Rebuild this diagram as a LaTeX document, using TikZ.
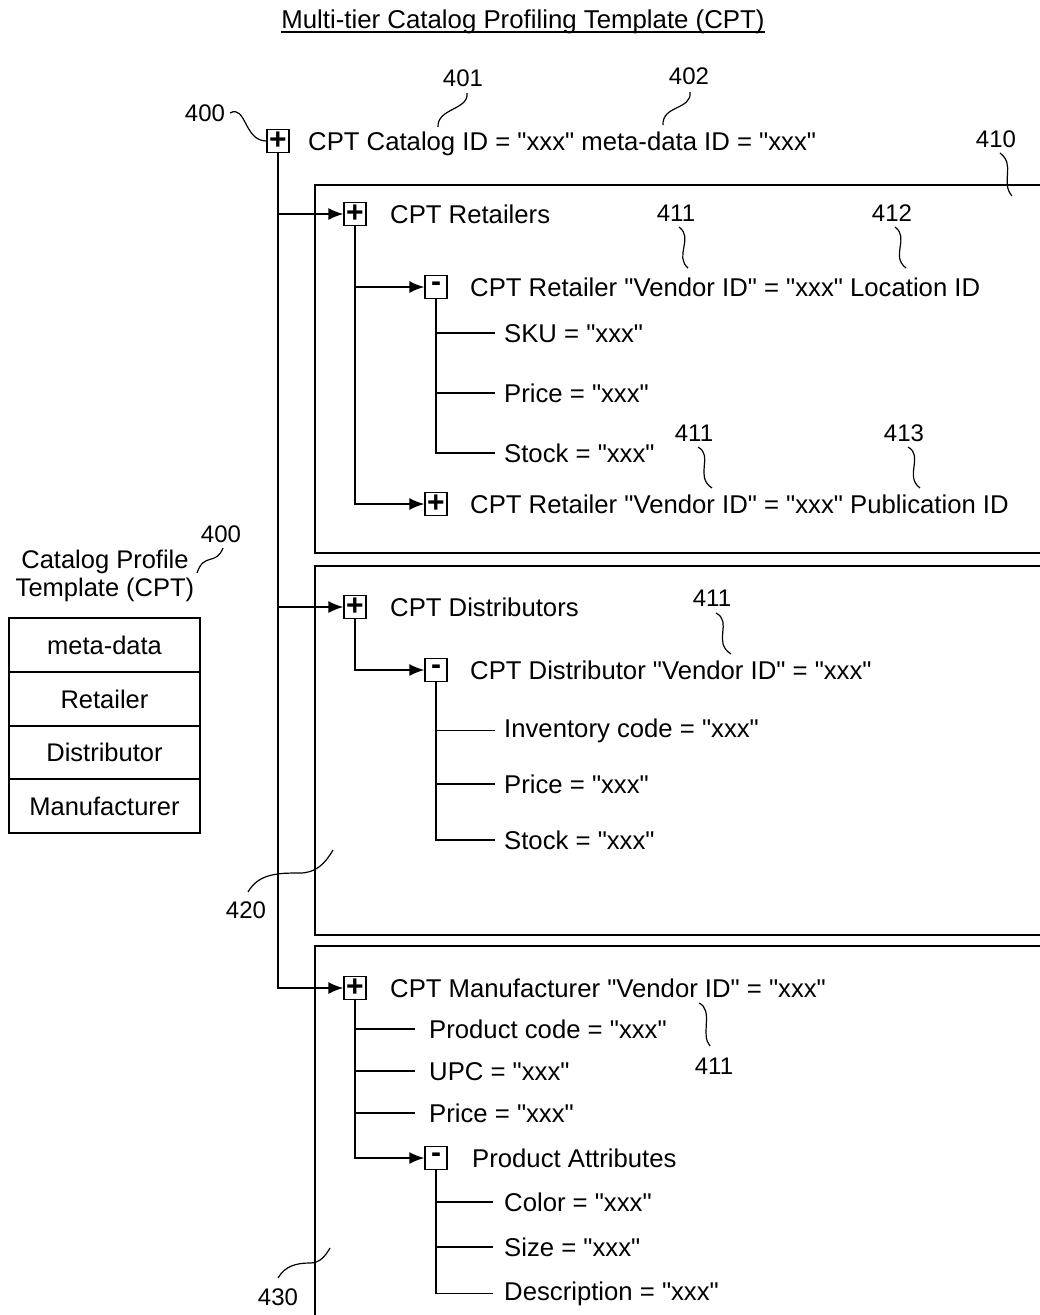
\documentclass[tikz,border=0pt]{standalone}
\usepackage{fontspec}
\setmainfont{Liberation Sans}[Ligatures=TeXOff]
\usetikzlibrary{arrows.meta}
\begin{document}
\begin{tikzpicture}[x=1pt,y=-1pt,
  every node/.style={font=\fontsize{25.7}{30}\selectfont},
  pm/.style={draw, line width=1.4pt, minimum width=22pt, minimum height=23pt, inner sep=0pt, font=\fontsize{30}{30}\selectfont\bfseries},
  txt/.style={anchor=base west, inner sep=0pt},
  leaf/.style={anchor=base west, inner ysep=0pt, inner xsep=9pt},
  mleaf/.style={anchor=base west, inner ysep=0pt, inner xsep=14pt},
  num/.style={inner sep=0pt, font=\fontsize{24}{29}\selectfont},
  conn/.style={line width=1.5pt},
  arr/.style={conn, -{Latex[length=15pt,width=12pt]}},
  frame/.style={line width=1.8pt},
  lead/.style={line width=1.2pt},
  cell/.style={draw, line width=1.4pt, minimum width=191pt, minimum height=54pt, inner sep=0pt, font=\fontsize{25.5}{30}\selectfont}
]
\useasboundingbox (0,0) rectangle (1040,1315);

% title
\node[inner sep=0pt, anchor=base, font=\fontsize{25.8}{30}\selectfont] (title) at (523,28) {Multi-tier Catalog Profiling Template (CPT)};
\draw[line width=1.2pt] ([yshift=-4pt]title.base west) -- ([yshift=-4pt]title.base east);

% frames
\draw[frame] (1040,185) -| (315,553) -- (1040,553);
\draw[frame] (1040,566) -| (315,935) -- (1040,935);
\draw[frame] (1040,946) -| (315,1315);

% root
\node[pm] (root) at (278,141) {+};
\node[txt] (rootT) at (308,150) {CPT Catalog ID = "xxx" meta-data ID = "xxx"};

% retailers
\node[pm] (ret) at (355,214) {+};
\node[txt] (retT) at (390,223) {CPT Retailers};
\node[pm] (rloc) at (436,287) {-};
\node[txt] (rlocT) at (470,296) {CPT Retailer "Vendor ID" = "xxx" Location ID};
\node[leaf] (sku) at (495,342) {SKU = "xxx"};
\node[leaf] (rprice) at (495,402) {Price = "xxx"};
\node[leaf] (rstock) at (495,462) {Stock = "xxx"};
\node[pm] (rpub) at (436,504) {+};
\node[txt] (rpubT) at (470,513) {CPT Retailer "Vendor ID" = "xxx" Publication ID};

% distributors
\node[pm] (dist) at (355,607) {+};
\node[txt] (distT) at (390,616) {CPT Distributors};
\node[pm] (dven) at (436,670) {-};
\node[txt] (dvenT) at (470,679) {CPT Distributor "Vendor ID" = "xxx"};
\node[leaf] (inv) at (495,737) {Inventory code = "xxx"};
\node[leaf] (dprice) at (495,793) {Price = "xxx"};
\node[leaf] (dstock) at (495,849) {Stock = "xxx"};

% manufacturer
\node[pm] (man) at (355,988) {+};
\node[txt] (manT) at (390,997) {CPT Manufacturer "Vendor ID" = "xxx"};
\node[mleaf] (pcode) at (415,1038) {Product code = "xxx"};
\node[mleaf] (upc) at (415,1080) {UPC = "xxx"};
\node[mleaf] (mprice) at (415,1122) {Price = "xxx"};
\node[pm] (attr) at (436,1158) {-};
\node[txt] (attrT) at (472,1167) {Product Attributes};
\node[leaf, inner xsep=11pt] (color) at (493,1211) {Color = "xxx"};
\node[leaf, inner xsep=11pt] (size) at (493,1256) {Size = "xxx"};
\node[leaf, inner xsep=11pt] (desc) at (493,1300) {Description = "xxx"};

% connectors
\draw[arr] (root.south) |- (ret.west);
\draw[arr] (root.south) |- (dist.west);
\draw[arr] (root.south) |- (man.west);
\draw[arr] (ret.south) |- (rloc.west);
\draw[arr] (ret.south) |- (rpub.west);
\draw[conn] (rloc.south) |- (sku.west);
\draw[conn] (rloc.south) |- (rprice.west);
\draw[conn] (rloc.south) |- (rstock.west);
\draw[arr] (dist.south) |- (dven.west);
\draw[conn] (dven.south) |- (inv.west);
\draw[conn] (dven.south) |- (dprice.west);
\draw[conn] (dven.south) |- (dstock.west);
\draw[conn] (man.south) |- (pcode.west);
\draw[conn] (man.south) |- (upc.west);
\draw[conn] (man.south) |- (mprice.west);
\draw[arr] (man.south) |- (attr.west);
\draw[conn] (attr.south) |- (color.west);
\draw[conn] (attr.south) |- (size.west);
\draw[conn] (attr.south) |- (desc.west);

% reference numerals
\node[num] (n400) at (205,113) {400};
\node[num] (n401) at (463,78) {401};
\node[num] (n402) at (689,76) {402};
\node[num] (n410) at (996,139) {410};
\node[num] (n411a) at (676,213) {411};
\node[num] (n412) at (892,213) {412};
\node[num] (n411b) at (694,433) {411};
\node[num] (n413) at (904,433) {413};
\node[num] (n411c) at (712,598) {411};
\node[num] (n411d) at (714,1066) {411};
\node[num] (n420) at (246,910) {420};
\node[num] (n430) at (278,1297) {430};
\node[num] (n400b) at (221,534) {400};

\draw[lead] (230,113) .. controls (246,104) and (244,141) .. (root.west);
\draw[lead] (467,93) .. controls (469,110) and (437,108) .. (438,127);
\draw[lead] (690,92) .. controls (692,110) and (662,105) .. (663,125);
\draw[lead] (1000,153) .. controls (1016,165) and (1000,182) .. (1012,196);
\draw[lead] (679,227) .. controls (694,238) and (674,256) .. (688,268);
\draw[lead] (895,227) .. controls (910,238) and (890,256) .. (906,268);
\draw[lead] (698,447) .. controls (714,456) and (694,476) .. (712,488);
\draw[lead] (908,447) .. controls (924,456) and (904,476) .. (920,488);
\draw[lead] (716,613) .. controls (733,622) and (712,642) .. (731,654);
\draw[lead] (699,1003) .. controls (714,1010) and (700,1035) .. (710,1046);
\draw[lead] (248,892) to[out=60,in=180] (300,873) to[out=0,in=240] (333,850);
\draw[lead] (278,1278) to[out=60,in=180] (310,1263) to[out=0,in=240] (330,1248);
\draw[lead] (197,573) .. controls (204,552) and (216,566) .. (223,548);

% left table
\node[inner sep=0pt, align=center, font=\fontsize{25.5}{28}\selectfont] (cpt) at (105,576) {Catalog Profile\\Template (CPT)};
\node[cell] (t1) at (104.5,645) {meta-data};
\node[cell] (t2) at (104.5,699) {Retailer};
\node[cell] (t3) at (104.5,752.5) {Distributor};
\node[cell] (t4) at (104.5,806) {Manufacturer};
\end{tikzpicture}
\end{document}
